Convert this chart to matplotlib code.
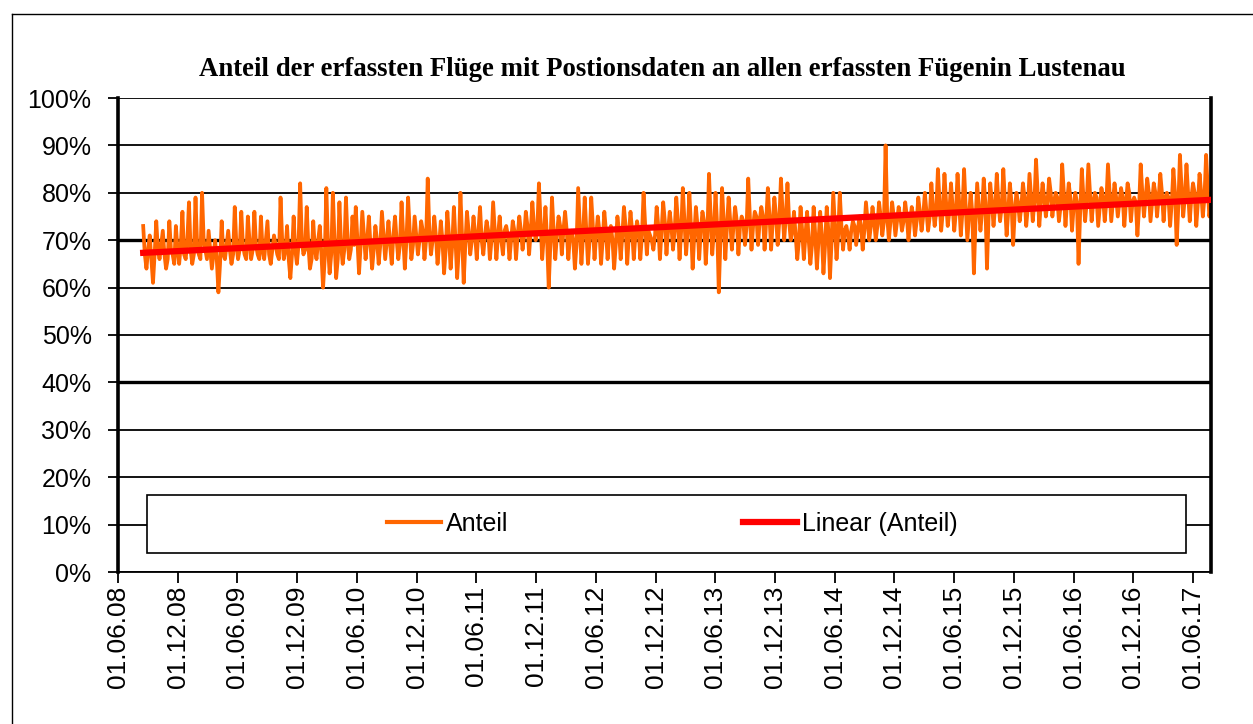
import matplotlib
matplotlib.use("Agg")
import matplotlib.pyplot as plt
import matplotlib.dates as mdates
from matplotlib.lines import Line2D
from matplotlib.patches import Rectangle
from matplotlib.ticker import PercentFormatter
import numpy as np
import pandas as pd

# share of tracked flights with position data (%), one reading every 5 days
start_date = "2008-08-17"
anteil_2008_2010 = [
    73, 67, 64, 68, 71, 66, 61, 67, 74, 68, 66, 69, 72, 67, 64, 66, 74, 68, 67, 65,
    73, 68, 65, 69, 76, 67, 66, 70, 78, 68, 65, 67, 79, 69, 67, 66, 80, 70, 68, 66,
    72, 68, 64, 67, 70, 66, 59, 65, 74, 67, 66, 69, 72, 68, 65, 67, 77, 69, 66, 68,
    76, 69, 67, 66, 75, 70, 66, 68, 76, 69, 67, 66, 75, 68, 66, 70, 74, 67, 65, 68,
    71, 69, 67, 66, 79, 70, 66, 68, 73, 66, 62, 67, 75, 68, 65, 69, 82, 70, 67, 68,
    77, 69, 64, 66, 74, 68, 66, 70, 73, 67, 60, 66, 81, 69, 63, 67, 80, 70, 62, 66,
    78, 69, 65, 68, 79, 70, 66, 68, 75, 69,
]
anteil_2010_2012 = [
    77, 70, 63, 69, 76, 71, 66, 70, 75, 69, 64, 68, 73, 70, 65, 69, 76, 71, 66, 70,
    74, 69, 65, 71, 75, 70, 66, 69, 78, 71, 64, 70, 79, 72, 66, 69, 75, 71, 67, 70,
    74, 72, 66, 70, 83, 72, 67, 70, 75, 71, 65, 69, 74, 70, 63, 68, 76, 71, 64, 69,
    77, 70, 62, 68, 80, 71, 61, 69, 76, 72, 67, 70, 75, 71, 66, 72, 77, 70, 67, 71,
    74, 72, 66, 70, 78, 72, 66, 71, 75, 70, 67, 72, 73, 71, 66, 70, 74, 72, 66, 71,
    75, 72, 68, 71, 76, 73, 67, 72, 78, 73, 70, 72, 82, 74, 66, 71, 77, 70, 60, 69,
    79, 72, 66, 71, 75, 73, 67, 72, 76, 72, 66, 71,
]
anteil_2012_2014 = [
    72, 70, 64, 69, 81, 73, 65, 71, 79, 72, 65, 70, 79, 73, 66, 71, 75, 72, 65, 70,
    76, 72, 66, 71, 73, 70, 64, 69, 75, 72, 66, 71, 77, 73, 65, 71, 76, 72, 66, 71,
    74, 72, 66, 71, 80, 73, 67, 72, 71, 70, 68, 71, 77, 73, 66, 72, 78, 74, 67, 72,
    76, 73, 68, 72, 79, 74, 66, 72, 81, 74, 67, 72, 80, 73, 64, 71, 77, 73, 66, 72,
    76, 74, 65, 71, 84, 75, 67, 72, 80, 73, 59, 70, 81, 74, 66, 73, 79, 74, 68, 73,
    77, 74, 67, 73, 75, 74, 69, 73, 83, 75, 68, 73, 76, 75, 69, 74, 77, 75, 68, 74,
    81, 75, 68, 74, 79, 75, 69, 74, 83, 76, 70, 75,
]
anteil_2014_2015 = [
    82, 74, 70, 72, 76, 71, 66, 70, 77, 72, 66, 71, 76, 70, 65, 69, 77, 71, 64, 70,
    76, 71, 63, 69, 77, 72, 62, 70, 80, 73, 66, 71, 80, 73, 68, 72, 73, 71, 68, 72,
    74, 73, 69, 72, 75, 73, 68, 72, 78, 74, 70, 73, 77, 74, 70, 73, 78, 75, 71, 74,
    90, 75, 70, 74, 78, 75, 71, 74, 77, 75, 72, 74, 78, 75, 70, 74, 77, 75, 71, 74,
    79, 76, 72, 75, 80, 76, 72, 75, 82, 77, 73, 76, 85, 78, 72, 76, 84, 78, 73, 76,
    82, 77, 72, 76, 84, 78, 71, 76, 85, 77, 70, 75, 80, 76, 63, 74, 82, 77, 72, 76,
    83, 78, 64, 75, 82, 78, 73, 77, 84, 78, 74, 77,
]
anteil_2015_2017 = [
    85, 78, 71, 76, 82, 78, 69, 76, 80, 78, 74, 77, 82, 79, 73, 77, 84, 79, 74, 78,
    87, 80, 73, 78, 82, 79, 75, 78, 83, 80, 75, 78, 80, 79, 74, 77, 86, 80, 73, 78,
    82, 79, 72, 77, 80, 78, 65, 76, 85, 79, 74, 78, 86, 80, 74, 78, 80, 79, 73, 77,
    81, 79, 74, 78, 86, 80, 74, 78, 82, 79, 75, 78, 81, 79, 73, 78, 82, 80, 74, 78,
    79, 78, 71, 77, 86, 80, 75, 79, 83, 80, 74, 78, 82, 80, 75, 79, 84, 80, 74, 79,
    80, 79, 73, 78, 85, 80, 69, 77, 88, 81, 75, 79, 86, 80, 74, 79, 82, 80, 73, 78,
    84, 80, 75, 79, 88, 81, 75, 78,
]

title = "Anteil der erfassten Flüge mit Postionsdaten an allen erfassten Fügenin Lustenau"
y_ticks = [0, 10, 20, 30, 40, 50, 60, 70, 80, 90, 100]

anteil = np.array(anteil_2008_2010 + anteil_2010_2012 + anteil_2012_2014
                  + anteil_2014_2015 + anteil_2015_2017, dtype=float)
dates = pd.date_range(start_date, periods=len(anteil), freq="5D")
xnum = mdates.date2num(dates)

# linear trend as in the spreadsheet
coef = np.polyfit(xnum, anteil, 1)
trend = np.polyval(coef, xnum)

W, H = 1253, 724
fig = plt.figure(figsize=(W / 100, H / 100), dpi=100)
ax = fig.add_axes([118 / W, 1 - 572 / H, (1211 - 118) / W, (572 - 98) / H])

for v in y_ticks:
    ax.axhline(v, color="black", lw=2.4 if v in (40, 70) else 1.3, zorder=1)

ax.plot(dates, anteil, color="#FF6600", lw=2.7, label="Anteil", zorder=2)
ax.plot(dates, trend, color="#FF0000", lw=4.5, label="Linear (Anteil)", zorder=3)

ax.set_ylim(0, 100)
ax.set_yticks(y_ticks)
ax.yaxis.set_major_formatter(PercentFormatter(100, decimals=0))

ticks = pd.date_range("2008-06-01", "2017-06-01", freq="6MS")
ticks = [t for t in ticks if t.month in (6, 12)]
ax.set_xticks(ticks)
ax.xaxis.set_major_formatter(mdates.DateFormatter("%d.%m.%y"))
ax.set_xlim(pd.Timestamp("2008-06-01"), dates[-1])

for lab in ax.get_xticklabels():
    lab.set_rotation(90)
ax.tick_params(axis="both", direction="out", colors="black")
ax.tick_params(axis="x", length=8, width=1.3, pad=2, labelsize=19)
ax.tick_params(axis="y", length=7, width=1.3, pad=12, labelsize=18)
for lab in ax.get_xticklabels() + ax.get_yticklabels():
    lab.set_family(["Liberation Sans", "DejaVu Sans"])

ax.spines["left"].set_linewidth(2.6)
ax.spines["right"].set_linewidth(2.6)
ax.spines["top"].set_visible(False)
ax.spines["bottom"].set_linewidth(1.3)

# legend box
box = Rectangle((147 / W, 1 - 553 / H), (1186 - 147) / W, (553 - 495) / H,
                transform=fig.transFigure, facecolor="white", edgecolor="black",
                lw=1.2, zorder=4)
ax.add_artist(box)
box.set_clip_on(False)
leg = ax.legend(loc="center", bbox_to_anchor=(672 / W, 1 - 524 / H),
                bbox_transform=fig.transFigure, ncol=2, frameon=False,
                handlelength=2.15, handletextpad=0.2, columnspacing=9.4,
                prop={"family": "Liberation Sans", "size": 18})
leg.set_zorder(5)
leg.get_lines()[0].set_linewidth(3)

fig.text(662 / W, 1 - 70 / H, title, ha="center", va="center",
         family="Liberation Serif", weight="bold", fontsize=19.3)

# outer chart frame
fig.add_artist(Line2D([12 / W, 12 / W], [0, 1 - 14 / H], color="black", lw=1))
fig.add_artist(Line2D([12 / W, 1], [1 - 14 / H, 1 - 14 / H], color="black", lw=1))

fig.savefig("out.png", dpi=100)
